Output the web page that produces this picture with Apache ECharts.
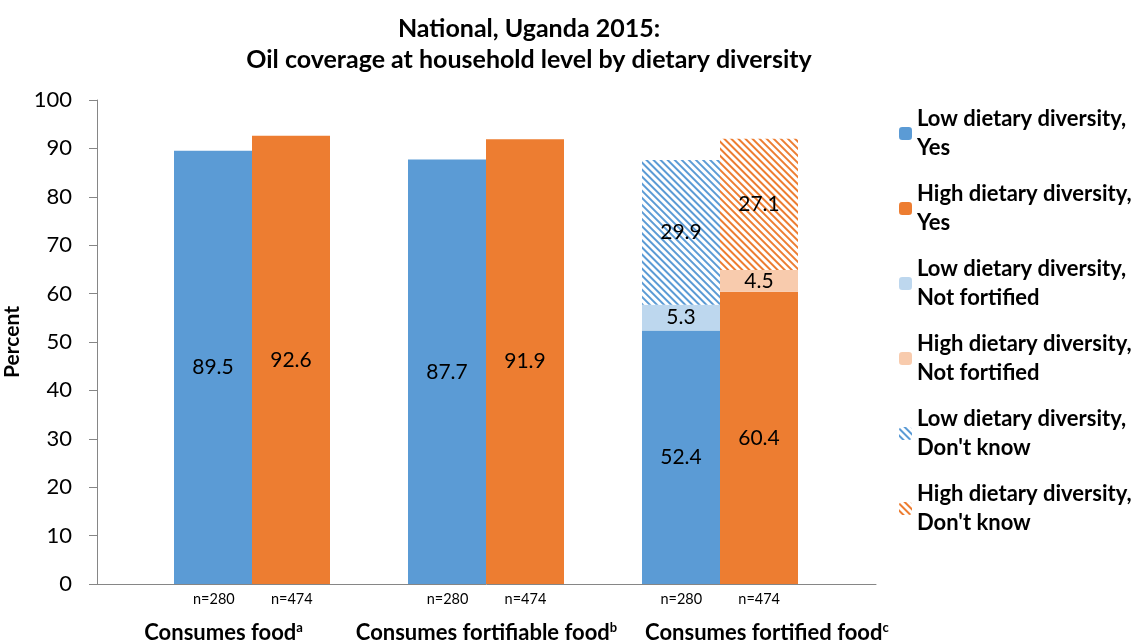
<!DOCTYPE html>
<html>
<head>
<meta charset="utf-8">
<script src="https://cdn.jsdelivr.net/npm/echarts@6/dist/echarts.min.js"></script>
<style>
html, body { margin: 0; padding: 0; background: #fff; }
#chart { width: 1139px; height: 643px; }
</style>
</head>
<body>
<div id="chart"></div>
<script>
// data
const groups = ['Consumes food', 'Consumes fortifiable food', 'Consumes fortified food'];
const groupNotes = ['a', 'b', 'c'];
const nLow = ['n=280', 'n=280', 'n=280'];
const nHigh = ['n=474', 'n=474', 'n=474'];
const lowYes = [89.5, 87.7, 52.4];
const highYes = [92.6, 91.9, 60.4];
const lowNotFortified = ['-', '-', 5.3];
const highNotFortified = ['-', '-', 4.5];
const lowDontKnow = ['-', '-', 29.9];
const highDontKnow = ['-', '-', 27.1];
const yTicks = [0, 10, 20, 30, 40, 50, 60, 70, 80, 90, 100];

const FONT = 'Lato';
const BLUE = '#5B9BD5', ORANGE = '#ED7D31', LBLUE = '#BDD7EE', LORANGE = '#F8CBAD';

// frame axis (grid 0): group i is centred at 12 * (i + 1), a bar is 4 units wide
const X_MIN = 4, X_MAX = 44, STEP = 12, HALF = 2;
const GROUP_LABEL_AT = [10.5, 24, 38.4];

const nPos = [], nText = {};
groups.forEach((g, i) => {
    const c = STEP * (i + 1);
    nPos.push(c - HALF, c + HALF);
    nText[(c - HALF).toFixed(2)] = nLow[i];
    nText[(c + HALF).toFixed(2)] = nHigh[i];
});
const gText = {};
GROUP_LABEL_AT.forEach((p, i) => { gText[p.toFixed(2)] = i; });

const hatch = color => ({
    symbol: 'rect', symbolSize: 1, color: color,
    dashArrayX: [1, 0], dashArrayY: [2, 3], rotation: Math.PI / 4
});

const valLabel = {
    show: true, position: 'inside', color: '#000',
    fontFamily: FONT, fontSize: 21
};

function bar(name, stack, arr, itemStyle) {
    return {
        name: name, type: 'bar', stack: stack,
        xAxisIndex: 2, yAxisIndex: 1, barWidth: 78, barGap: '0%',
        data: arr, itemStyle: itemStyle, label: valLabel
    };
}

const axisGray = { color: '#868686' };
const hidden = {
    axisLine: { show: false }, axisTick: { show: false },
    axisLabel: { show: false }, splitLine: { show: false }
};

const chart = echarts.init(document.getElementById('chart'));
chart.setOption({
    animation: false,
    textStyle: { fontFamily: FONT },
    title: {
        text: 'National, Uganda 2015:\nOil coverage at household level by dietary diversity',
        left: 524, top: 8, textAlign: 'center',
        textStyle: { fontFamily: FONT, fontWeight: 'bold', fontSize: 25, lineHeight: 31, color: '#000' }
    },
    grid: [
        { left: 97, right: 263, top: 100, bottom: 59, outerBoundsMode: 'none' },
        { left: 135, right: 302, top: 100, bottom: 59, outerBoundsMode: 'none' }
    ],
    legend: {
        orient: 'vertical', left: 894, top: 85,
        itemWidth: 13, itemHeight: 13, itemGap: -12,
        data: ['Low dietary diversity,\nYes', 'High dietary diversity,\nYes',
               'Low dietary diversity,\nNot fortified', 'High dietary diversity,\nNot fortified',
               "Low dietary diversity,\nDon't know", "High dietary diversity,\nDon't know"],
        textStyle: {
            fontFamily: FONT, fontWeight: 'bold', fontSize: 22, lineHeight: 29,
            color: '#000', padding: [29, 0, 0, 0]
        }
    },
    xAxis: [{
        gridIndex: 0, type: 'value', min: X_MIN, max: X_MAX,
        axisLine: { show: true, lineStyle: axisGray },
        axisTick: { show: false }, splitLine: { show: false },
        axisLabel: {
            customValues: nPos, margin: 8, fontSize: 14.5, color: '#000', fontFamily: FONT,
            formatter: v => nText[v.toFixed(2)] || ''
        }
    }, {
        gridIndex: 0, type: 'value', min: X_MIN, max: X_MAX, position: 'bottom',
        axisLine: { show: false }, axisTick: { show: false }, splitLine: { show: false },
        axisLabel: {
            customValues: GROUP_LABEL_AT, margin: 37,
            formatter: v => {
                const i = gText[v.toFixed(2)];
                return i == null ? '' : '{m|' + groups[i] + '}{s|' + groupNotes[i] + '}';
            },
            rich: {
                m: { fontFamily: FONT, fontWeight: 'bold', fontSize: 22, color: '#000', lineHeight: 24 },
                s: { fontFamily: FONT, fontWeight: 'bold', fontSize: 13, color: '#000', verticalAlign: 'top', lineHeight: 13 }
            }
        }
    }, Object.assign({ gridIndex: 1, type: 'category', data: groups }, hidden)],
    yAxis: [{
        gridIndex: 0, type: 'value', min: 0, max: 100, interval: 10,
        name: 'Percent', nameLocation: 'middle', nameGap: 69, nameRotate: 90,
        nameTextStyle: { fontFamily: FONT, fontWeight: 'bold', fontSize: 21, color: '#000' },
        axisLine: { show: true, lineStyle: axisGray },
        axisTick: { show: true, length: 8, lineStyle: axisGray },
        splitLine: { show: false },
        axisLabel: { margin: 25, fontSize: 22, color: '#000', fontFamily: FONT,
                     customValues: yTicks }
    }, Object.assign({ gridIndex: 1, type: 'value', min: 0, max: 100, interval: 10 }, hidden)],
    series: [
        bar('Low dietary diversity,\nYes', 'low', lowYes, { color: BLUE }),
        bar('High dietary diversity,\nYes', 'high', highYes, { color: ORANGE }),
        bar('Low dietary diversity,\nNot fortified', 'low', lowNotFortified, { color: LBLUE }),
        bar('High dietary diversity,\nNot fortified', 'high', highNotFortified, { color: LORANGE }),
        bar("Low dietary diversity,\nDon't know", 'low', lowDontKnow, { color: '#fff', decal: hatch(BLUE) }),
        bar("High dietary diversity,\nDon't know", 'high', highDontKnow, { color: '#fff', decal: hatch(ORANGE) })
    ]
});
</script>
</body>
</html>
